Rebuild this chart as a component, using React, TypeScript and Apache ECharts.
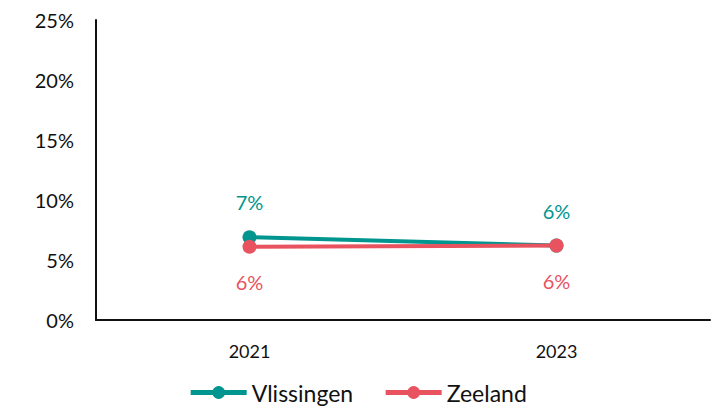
import React, { useEffect, useRef } from "react";
import * as echarts from "echarts";

const categories = ["2021", "2023"];
const vlissingen = [0.069, 0.062];
const zeeland = [0.061, 0.062];
const yTicks = [0, 0.05, 0.1, 0.15, 0.2, 0.25];

const TEAL = "#00968F";
const RED = "#E8535F";
const FONT = "Lato, 'DejaVu Sans', sans-serif";

export default function App() {
  const ref = useRef<HTMLDivElement>(null);
  useEffect(() => {
    if (!ref.current) return;
    const chart = echarts.init(ref.current, undefined, { renderer: "svg" });
    const pct = (v: number) => Math.round(v * 100) + "%";
    chart.setOption({
      animation: false,
      textStyle: { fontFamily: FONT },
      grid: { left: 96, top: 20, right: 5, bottom: 89 },
      legend: {
        bottom: 0,
        left: "center",
        itemWidth: 56,
        itemHeight: 16,
        itemGap: 30,
        lineStyle: { width: 5 },
        textStyle: { fontSize: 23, color: "#111", fontFamily: FONT },
        data: ["Vlissingen", "Zeeland"],
      },
      xAxis: {
        type: "category",
        data: categories,
        boundaryGap: true,
        axisLine: { lineStyle: { color: "#111", width: 2 } },
        axisTick: { show: false },
        axisLabel: { fontSize: 18, color: "#111", margin: 22, fontFamily: FONT },
      },
      yAxis: {
        type: "value",
        min: yTicks[0],
        max: yTicks[yTicks.length - 1],
        interval: 0.05,
        axisLine: { show: true, lineStyle: { color: "#111", width: 2 } },
        axisTick: { show: false },
        splitLine: { show: false },
        axisLabel: {
          fontSize: 20,
          color: "#111",
          margin: 22,
          fontFamily: FONT,
          formatter: (v: number) => pct(v),
        },
      },
      series: [
        {
          name: "Vlissingen",
          type: "line",
          data: vlissingen,
          color: TEAL,
          symbol: "circle",
          symbolSize: 14,
          lineStyle: { width: 4, color: TEAL },
          itemStyle: { color: TEAL },
          label: {
            show: true,
            position: "top",
            distance: 18,
            color: TEAL,
            fontSize: 20,
            fontFamily: FONT,
            formatter: (p: any) => pct(p.value),
          },
        },
        {
          name: "Zeeland",
          type: "line",
          data: zeeland,
          color: RED,
          symbol: "circle",
          symbolSize: 14,
          lineStyle: { width: 4, color: RED },
          itemStyle: { color: RED },
          label: {
            show: true,
            position: "bottom",
            distance: 18,
            color: RED,
            fontSize: 20,
            fontFamily: FONT,
            formatter: (p: any) => pct(p.value),
          },
        },
      ],
    });
    return () => chart.dispose();
  }, []);
  return <div ref={ref} style={{ width: 715, height: 409, position: "absolute", left: 0, top: 0 }} />;
}
